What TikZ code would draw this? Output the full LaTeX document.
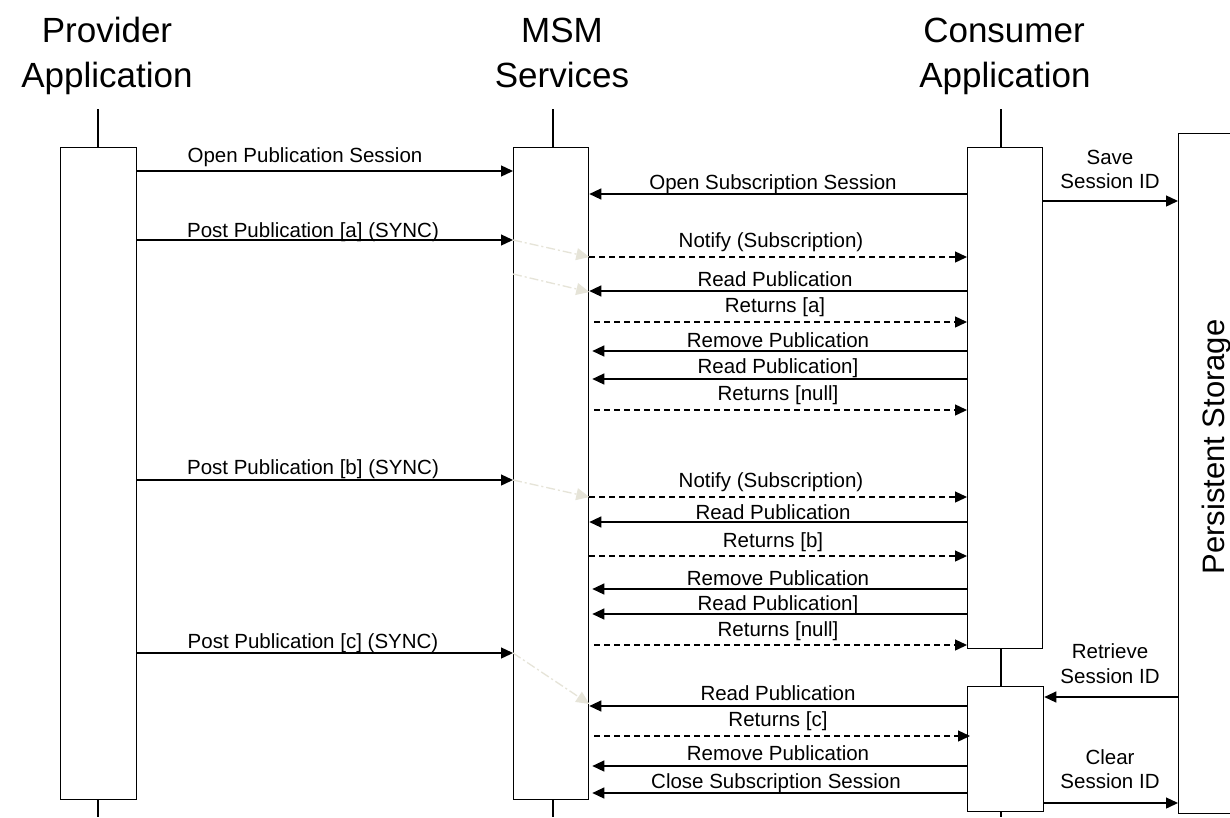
\documentclass[tikz,border=0pt]{standalone}
\usepackage{fontspec}
\setmainfont{Liberation Sans}
\usetikzlibrary{arrows.meta}
\definecolor{ghost}{RGB}{230,228,216}
\begin{document}
\begin{tikzpicture}[x=1pt,y=-1pt,
  every node/.style={inner sep=0pt},
  box/.style={draw, line width=1.3pt, fill=white, anchor=north west},
  life/.style={line width=1.3pt},
  msg/.style={line width=1.3pt, -{Triangle[length=12pt,width=11pt]}},
  ret/.style={msg, dash pattern=on 6pt off 4pt},
  hint/.style={ghost, line width=1.3pt, dash pattern=on 9pt off 3pt on 2pt off 3pt,
    -{Triangle[length=13pt,width=12pt]}},
  lbl/.style={font=\fontsize{20.5}{24}\selectfont, text height=14.7pt, text depth=0pt},
  biglbl/.style={font=\fontsize{31}{36}\selectfont, text height=22pt, text depth=0pt},
  title/.style={font=\fontsize{35}{42}\selectfont, text height=25pt, text depth=0pt}
]
\useasboundingbox (0,0) rectangle (1230,817);
\clip (0,0) rectangle (1230,817);

% participant headings
\node[title] (provA) at (107,30) {Provider};
\node[title] (provB) at (107,75) {Application};
\node[title] (msmA) at (562,30) {MSM};
\node[title] (msmB) at (562,75) {Services};
\node[title] (consA) at (1004,30) {Consumer};
\node[title] (consB) at (1005,75) {Application};

% activation boxes
\node[box, minimum width=76pt, minimum height=652pt] (prov) at (60,147) {};
\node[box, minimum width=75pt, minimum height=652pt] (msm) at (513,147) {};
\node[box, minimum width=75pt, minimum height=501pt] (c1) at (967,147) {};
\node[box, minimum width=76pt, minimum height=125pt] (c2) at (967,686) {};
\node[box, minimum width=90pt, minimum height=680pt] (st) at (1178,133) {};
\node[biglbl, rotate=90] (stlbl) at (1213,447) {Persistent Storage};

% lifelines
\coordinate (provTop) at (98,109);
\coordinate (provEnd) at (98,817);
\coordinate (msmTop) at (553,109);
\coordinate (msmEnd) at (553,817);
\coordinate (consTop) at (1001,109);
\coordinate (consEnd) at (1001,817);
\draw[life] (provTop) -- (provTop |- prov.north);
\draw[life] (prov.south -| provEnd) -- (provEnd);
\draw[life] (msmTop) -- (msmTop |- msm.north);
\draw[life] (msm.south -| msmEnd) -- (msmEnd);
\draw[life] (consTop) -- (consTop |- c1.north);
\draw[life] (c1.south -| consTop) -- (c2.north -| consTop);
\draw[life] (c2.south -| consEnd) -- (consEnd);

% offsets where some messages stop short of the MSM box
\coordinate (mr) at ([xshift=5pt]msm.east);
\coordinate (mrr) at ([xshift=3pt]msm.east);

% session setup
\draw[msg] (prov.east |- 0,171) -- (msm.west |- 0,171);
\node[lbl] (m1) at (305,155) {Open Publication Session};
\draw[msg] (c1.west |- 0,194) -- (msm.east |- 0,194);
\node[lbl] (m2) at (773,182) {Open Subscription Session};
\draw[msg] (c1.east |- 0,201) -- (st.west |- 0,201);
\node[lbl] (m3a) at (1110,157) {Save};
\node[lbl] (m3b) at (1110,181) {Session ID};

% publication [a]
\draw[msg] (prov.east |- 0,240) -- (msm.west |- 0,240);
\node[lbl] (m4) at (313,230) {Post Publication [a] (SYNC)};
\draw[hint] (msm.west |- 0,240) -- (msm.east |- 0,257);
\draw[ret] (msm.east |- 0,257) -- (c1.west |- 0,257);
\node[lbl] (m5) at (771,240) {Notify (Subscription)};
\draw[hint] (msm.west |- 0,274) -- (msm.east |- 0,292);
\draw[msg] (c1.west |- 0,291) -- (msm.east |- 0,291);
\node[lbl] (m6) at (775,279) {Read Publication};
\draw[ret] (mr |- 0,322) -- (c1.west |- 0,322);
\node[lbl] (m7) at (775,305) {Returns [a]};
\draw[msg] (c1.west |- 0,351) -- (mrr |- 0,351);
\node[lbl] (m8) at (778,340) {Remove Publication};
\draw[msg] (c1.west |- 0,379) -- (mrr |- 0,379);
\node[lbl] (m9) at (778,366) {Read Publication]};
\draw[ret] (mr |- 0,410) -- (c1.west |- 0,410);
\node[lbl] (m10) at (778,393) {Returns [null]};

% publication [b]
\draw[msg] (prov.east |- 0,480) -- (msm.west |- 0,480);
\node[lbl] (m11) at (313,467) {Post Publication [b] (SYNC)};
\draw[hint] (msm.west |- 0,480) -- (msm.east |- 0,497);
\draw[ret] (msm.east |- 0,497) -- (c1.west |- 0,497);
\node[lbl] (m12) at (771,480) {Notify (Subscription)};
\draw[msg] (c1.west |- 0,522) -- (msm.east |- 0,522);
\node[lbl] (m13) at (773,512) {Read Publication};
\draw[ret] (msm.east |- 0,556) -- (c1.west |- 0,556);
\node[lbl] (m14) at (773,540) {Returns [b]};
\draw[msg] (c1.west |- 0,589) -- (mrr |- 0,589);
\node[lbl] (m15) at (778,578) {Remove Publication};
\draw[msg] (c1.west |- 0,614) -- (mrr |- 0,614);
\node[lbl] (m16) at (778,603) {Read Publication]};
\draw[ret] (mr |- 0,645) -- (c1.west |- 0,645);
\node[lbl] (m17) at (778,629) {Returns [null]};

% publication [c]
\draw[msg] (prov.east |- 0,653) -- (msm.west |- 0,653);
\node[lbl] (m18) at (313,641) {Post Publication [c] (SYNC)};
\draw[hint] (msm.west |- 0,653) -- (msm.east |- 0,704);
\draw[msg] (st.west |- 0,697) -- (c2.east |- 0,697);
\node[lbl] (m19a) at (1110,651) {Retrieve};
\node[lbl] (m19b) at (1110,676) {Session ID};
\draw[msg] (c2.west |- 0,706) -- (msm.east |- 0,706);
\node[lbl] (m20) at (778,693) {Read Publication};
\draw[ret] (mr |- 0,736) -- ([xshift=3pt]c2.west |- 0,736);
\node[lbl] (m21) at (778,719) {Returns [c]};
\draw[msg] (c2.west |- 0,766) -- (mrr |- 0,766);
\node[lbl] (m22) at (778,753) {Remove Publication};
\draw[msg] (c2.west |- 0,793) -- (mrr |- 0,793);
\node[lbl] (m23) at (776,781) {Close Subscription Session};
\draw[msg] (c2.east |- 0,803) -- (st.west |- 0,803);
\node[lbl] (m24a) at (1110,757) {Clear};
\node[lbl] (m24b) at (1110,781) {Session ID};
\end{tikzpicture}
\end{document}
